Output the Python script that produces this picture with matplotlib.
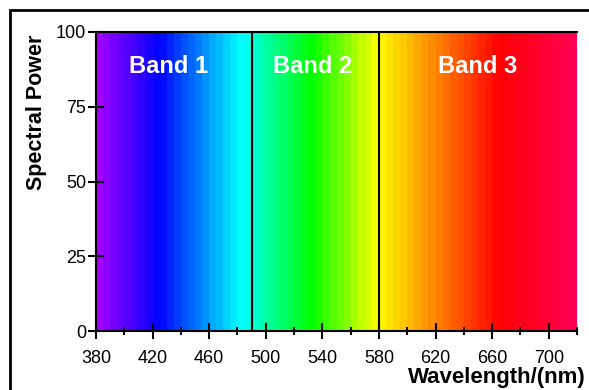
import matplotlib.pyplot as plt
from matplotlib.colors import LinearSegmentedColormap
from matplotlib.patches import Rectangle

plt.rcParams['font.family'] = ['Liberation Sans', 'DejaVu Sans']

# strip starts (nm) and spectral power of each strip
wavelengths = [380, 385, 390, 395, 400, 405, 410, 415, 420, 425, 430, 435,
               440, 445, 450, 455, 460, 465, 470, 475, 480, 485, 490, 495,
               500, 505, 510, 515, 520, 525, 530, 535, 540, 545, 550, 555,
               560, 565, 570, 575, 580, 585, 590, 595, 600, 605, 610, 615,
               620, 625, 630, 635, 640, 645, 650, 655, 660, 665, 670, 675,
               680, 685, 690, 695, 700, 705, 710, 715]
power = [100] * len(wavelengths)

band_edges = [490, 580]
band_names = ["Band 1", "Band 2", "Band 3"]
band_centers = [431, 533, 650]

xticks = [380, 420, 460, 500, 540, 580, 620, 660, 700]
yticks = [0, 25, 50, 75, 100]

# colour keypoints (wavelength, rgb)
keys = [(380, (0.65, 0, 1)), (424, (0, 0, 1)), (482, (0, 1, 1)),
        (533, (0, 1, 0)), (579, (1, 1, 0)), (665, (1, 0, 0)),
        (720, (1, 0, 0.33))]
cmap = LinearSegmentedColormap.from_list(
    "spec", [((w - 380) / 340, c) for w, c in keys])

fig = plt.figure(figsize=(5.89, 3.9), dpi=100)
ax = fig.add_axes([96 / 589, 1 - 331 / 390, 481 / 589, 299 / 390])

colors = [cmap((w + 2.5 - 380) / 340) for w in wavelengths]
ax.bar(wavelengths, power, width=5, align='edge', color=colors, linewidth=0)

for e in band_edges:
    ax.axvline(e, color='black', lw=1.5)
for name, c in zip(band_names, band_centers):
    ax.text(c, 88.5, name, color='white', fontsize=17, fontweight='bold',
            ha='center', va='center')

ax.set_xlim(380, 720)
ax.set_ylim(0, 100)
ax.set_xticks(xticks)
ax.set_xticks([400, 440, 480, 520, 560, 600, 640, 680, 720], minor=True)
ax.set_yticks(yticks)
ax.tick_params(axis='both', which='major', direction='inout', length=11,
               width=1.5, labelsize=13)
ax.tick_params(axis='x', which='major', pad=8)
ax.tick_params(axis='y', which='major', pad=1.5)
ax.tick_params(axis='x', which='minor', direction='inout', length=6, width=1.5)

for s in ['left', 'bottom', 'top']:
    ax.spines[s].set_linewidth(1.5)
ax.spines['right'].set_visible(False)

fig.text(37 / 589, 1 - 35 / 390, "Spectral Power", rotation=90, fontsize=15.5,
         fontweight='bold', ha='center', va='top')
fig.text(586 / 589, 1 - 378 / 390, "Wavelength/(nm)", fontsize=16,
         fontweight='bold', ha='right', va='center')

fig.patches.append(Rectangle((10 / 589, -0.2), 2, 1.2 - 10 / 390,
                             transform=fig.transFigure, fill=False,
                             edgecolor='black', lw=2))

fig.savefig("out.png", dpi=100)
